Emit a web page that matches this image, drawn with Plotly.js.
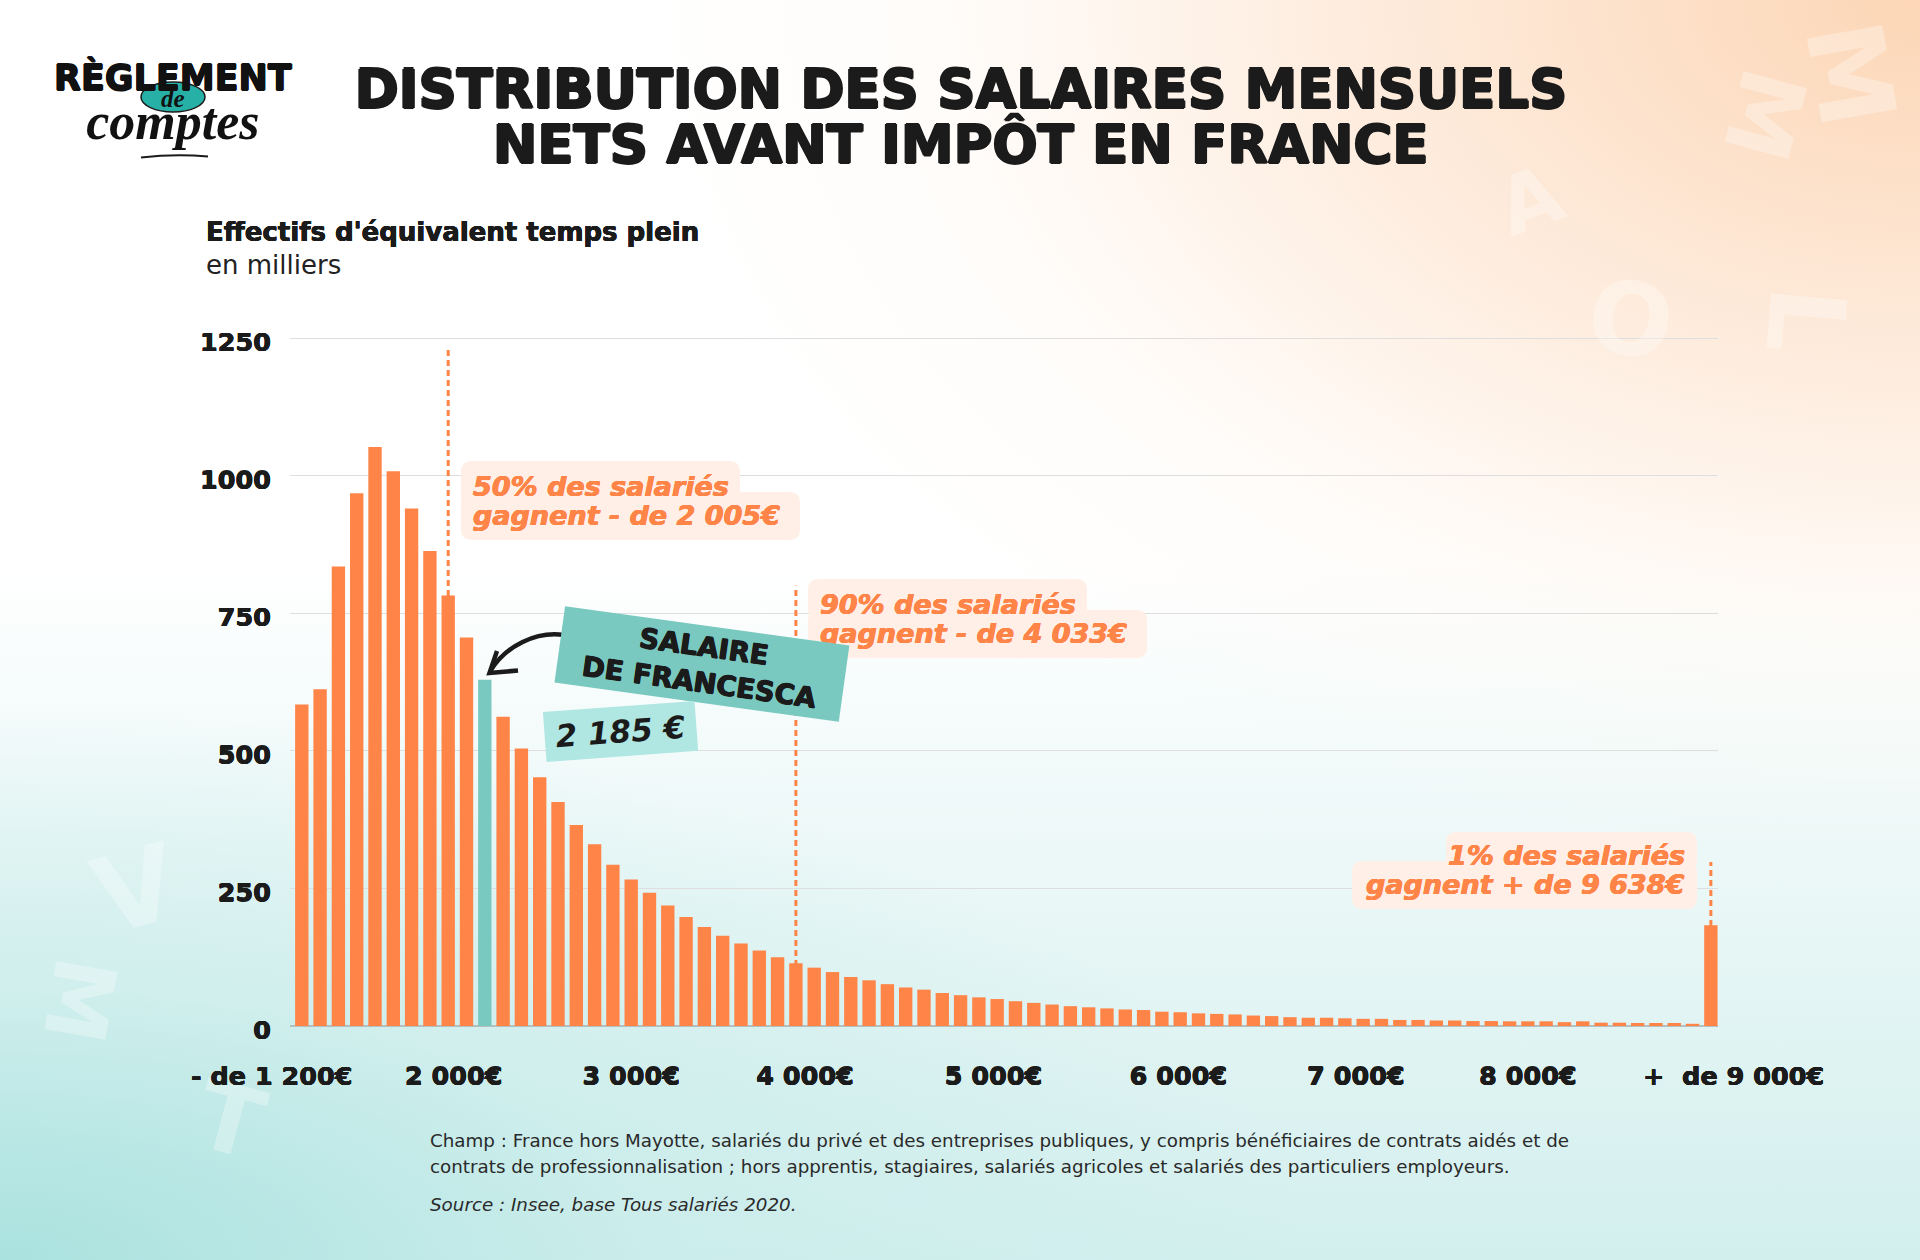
<!DOCTYPE html>
<html>
<head>
<meta charset="utf-8">
<script src="https://cdn.plot.ly/plotly-3.0.1.min.js"></script>
<style>
  html, body { margin: 0; padding: 0; }
  body {
    width: 1920px; height: 1260px; overflow: hidden;
    background:
      radial-gradient(ellipse 85% 85% at 100% 0%, rgba(252,212,178,0.95) 0%, rgba(253,226,204,0.65) 35%, rgba(255,246,238,0.3) 60%, rgba(255,255,255,0) 80%),
      radial-gradient(ellipse 85% 55% at 0% 100%, rgba(170,226,223,1) 0%, rgba(200,236,234,0.7) 40%, rgba(255,255,255,0) 80%),
      linear-gradient(to bottom, #ffffff 0%, #ffffff 45%, #e6f6f5 75%, #d2efee 100%);
  }
  #chart { width: 1920px; height: 1260px; }
</style>
</head>
<body>
<div id="chart"></div>
<script>
// ---------------- DATA ----------------
// Effectifs (milliers d'EQTP) par tranche de salaire mensuel net
const binValues = [584,612,835,968,1052,1008,940,863,782,706,
                   629,562,504,452,407,365,330,293,266,242,
                   219,198,180,164,150,137,125,114,106,98,
                   89,83,76,70,66,60,56,52,49,45,
                   42,39,36,34,32,30,29,26,25,23,
                   22,21,19,18,16,15,15,14,13,13,
                   11,11,10,10,9,9,8.5,8.5,8.5,7,
                   8.5,6,6,5.5,5.5,5.5,4,183];
const highlightBin = 10;               // salaire de Francesca (2 185 €)
const xTickPositions = [8.3, 18, 27.5, 37.8, 47.9, 57.6, 67];
const xTickLabels = ['2 000€','3 000€','4 000€','5 000€','6 000€','7 000€','8 000€'];
const xEndLabels = ['- de 1 200€', '+\u00a0 de 9 000€'];
const yTickValues = [0, 250, 500, 750, 1000, 1250];
const yTickLabels = ['0', '250', '500', '750', '1000', '1250'];
// seuils : médiane (2 005 €), 9e décile (4 033 €), dernier centile (9 638 €)
const thresholdBins = [8, 27, 77];
const thresholdTops = [1235, 800, 298];
const thresholdText = [
  ['50% des salariés', 'gagnent - de 2 005€'],
  ['90% des salariés', 'gagnent - de 4 033€'],
  ['1% des salariés', 'gagnent + de 9 638€']
];

// ---------------- STYLE / LAYOUT HELPERS ----------------
const ORANGE = '#FF8447', TEAL = '#79C9C1', LIGHTTEAL = '#B0E7E3', BOX = '#FFEFE7', INK = '#1b1b1b';
const W = 1920, H = 1260, L = 290, R = 1718, T = 326, B = 1026;
const PX_PER_UNIT = 688 / 1250;
const YMAX = (B - T) / PX_PER_UNIT;    // headroom so the 1250 gridline is drawn
const px = v => (v - L) / (R - L);
const py = v => (B - v) / (B - T);
const pt = (x, y) => px(x).toFixed(5) + ',' + py(y).toFixed(5);
const heavyCss = (c, w) => w + 'px 0 0 ' + c + ', -' + w + 'px 0 0 ' + c + ', 0 ' + w + 'px 0 ' + c + ', 0 -' + w + 'px 0 ' + c;

function rrect(x0, y0, x1, y1, r) {
  return 'M' + pt(x0 + r, y0) + ' L' + pt(x1 - r, y0) + ' Q' + pt(x1, y0) + ' ' + pt(x1, y0 + r) +
         ' L' + pt(x1, y1 - r) + ' Q' + pt(x1, y1) + ' ' + pt(x1 - r, y1) +
         ' L' + pt(x0 + r, y1) + ' Q' + pt(x0, y1) + ' ' + pt(x0, y1 - r) +
         ' L' + pt(x0, y0 + r) + ' Q' + pt(x0, y0) + ' ' + pt(x0 + r, y0) + ' Z';
}
function boxShape(x0, y0, x1, y1) {
  return { type: 'path', xref: 'paper', yref: 'paper', path: rrect(x0, y0, x1, y1, 11),
           fillcolor: BOX, line: { width: 0 }, layer: 'above' };
}

const barColors = binValues.map((v, i) => i === highlightBin ? TEAL : ORANGE);

const trace = {
  type: 'bar',
  x: binValues.map((v, i) => i),
  y: binValues,
  marker: { color: barColors, line: { width: 0 } },
  hoverinfo: 'skip'
};

const orangeFont = { family: 'DejaVu Sans', size: 27, weight: 'bold', style: 'italic', color: ORANGE,
                     shadow: heavyCss(ORANGE, 0.4) };
const tickFont = { family: 'DejaVu Sans', size: 25.5, weight: 'bold', color: INK, shadow: heavyCss(INK, 0.35) };
const titleFont = { family: 'DejaVu Sans', size: 53, weight: 'bold', color: INK, shadow: heavyCss(INK, 1.2) };

const shapes = [
  // threshold dashed lines
  ...thresholdBins.map((b, i) => ({
    type: 'line', xref: 'x', yref: 'y', x0: b, x1: b, y0: 0, y1: thresholdTops[i],
    line: { color: ORANGE, width: 3, dash: '6px,4px' }, layer: 'between'
  })),
  // annotation highlight boxes
  boxShape(461, 461, 740, 505), boxShape(461, 492, 800, 540),
  boxShape(808, 579, 1087, 620), boxShape(808, 610, 1147, 658),
  boxShape(1446, 832, 1697, 870), boxShape(1352, 861, 1697, 909),
  // curved arrow to Francesca's bar
  { type: 'path', xref: 'paper', yref: 'paper',
    path: 'M' + pt(564, 635) + ' C' + pt(536, 631) + ' ' + pt(506, 646) + ' ' + pt(491, 670),
    line: { color: INK, width: 4.5 }, layer: 'above' },
  { type: 'path', xref: 'paper', yref: 'paper',
    path: 'M' + pt(497, 651) + ' L' + pt(489.5, 673) + ' L' + pt(518, 670.5),
    line: { color: INK, width: 4.5 }, layer: 'above' },
  // logo ellipse
  { type: 'circle', xref: 'paper', yref: 'paper', x0: px(141), x1: px(205), y0: py(82), y1: py(112),
    fillcolor: '#27B0A6', line: { color: INK, width: 1.5 }, layer: 'above' },
  // logo swoosh
  { type: 'path', xref: 'paper', yref: 'paper',
    path: 'M' + pt(141, 157.5) + ' Q' + pt(175, 153.5) + ' ' + pt(208, 156.5),
    line: { color: INK, width: 2 }, layer: 'above' }
];

function ann(text, x, y, opts) {
  return Object.assign({ text: text, x: px(x), y: py(y), xref: 'paper', yref: 'paper',
                         showarrow: false, xanchor: 'left', yanchor: 'middle' }, opts || {});
}
const WM = 'rgba(255,255,255,0.3)';
function wm(letter, x, y, size, angle) {
  return ann(letter, x, y, { xanchor: 'center', textangle: angle,
    font: { family: 'DejaVu Sans', size: size, weight: 'bold', color: WM } });
}

const logoText =
  '<span style="font-family:\'DejaVu Sans\';font-style:normal;font-size:35px;text-shadow:' + heavyCss('#111', 0.7) + '">RÈGLEMENT</span>' +
  '<br><span style="font-size:25px;baseline-shift:8px">de</span>' +
  '<br><span style="font-size:52px">comptes</span>';

const annotations = [
  // faint decorative letters of the background
  wm('M', 1850, 75, 105, 80), wm('M', 1765, 115, 90, 105), wm('L', 1805, 320, 105, 95),
  wm('O', 1630, 320, 100, 10), wm('A', 1530, 200, 80, -20),
  wm('V', 135, 890, 105, -15), wm('M', 80, 1000, 85, 100), wm('T', 230, 1120, 95, 15),
  // second title line
  ann('NETS AVANT IMPÔT EN FRANCE', 961, 144.5, { xanchor: 'center', font: titleFont }),
  // y-axis heading
  ann("Effectifs d'équivalent temps plein", 204, 232.5,
      { font: { family: 'DejaVu Sans', size: 26, weight: 'bold', color: INK, shadow: heavyCss(INK, 0.35) } }),
  ann('en milliers', 204, 265, { font: { family: 'DejaVu Sans', size: 26, color: '#222' } }),
  // threshold labels
  ann(thresholdText[0][0], 471, 486, { font: orangeFont }),
  ann(thresholdText[0][1], 471, 515, { font: orangeFont }),
  ann(thresholdText[1][0], 818, 604, { font: orangeFont }),
  ann(thresholdText[1][1], 818, 633, { font: orangeFont }),
  ann(thresholdText[2][0], 1687, 855, { xanchor: 'right', font: orangeFont }),
  ann(thresholdText[2][1], 1687, 884, { xanchor: 'right', font: orangeFont }),
  // Francesca labels
  ann('SALAIRE<br>DE FRANCESCA', 702, 663.5, { xanchor: 'center', textangle: 7.9,
      bgcolor: TEAL, width: 286, height: 76, borderpad: 0, align: 'center', valign: 'middle',
      font: { family: 'DejaVu Sans', size: 27.5, weight: 'bold', color: INK, shadow: heavyCss(INK, 0.6) } }),
  ann('2 185 €', 620, 731, { xanchor: 'center', textangle: -4.2,
      bgcolor: LIGHTTEAL, width: 151, height: 49, borderpad: 0, align: 'center', valign: 'middle',
      font: { family: 'DejaVu Sans', size: 31, weight: 'bold', style: 'italic', color: INK } }),
  // end x labels
  { text: xEndLabels[0], x: 0, y: 0, xref: 'x', yref: 'paper', xshift: -30, yshift: -50,
    showarrow: false, xanchor: 'center', yanchor: 'middle', font: tickFont },
  { text: xEndLabels[1], x: binValues.length - 1, y: 0, xref: 'x', yref: 'paper', xshift: 23, yshift: -50,
    showarrow: false, xanchor: 'center', yanchor: 'middle', font: tickFont },
  // logo (one text block: RÈGLEMENT / de / comptes)
  ann(logoText, 173, 104, { xanchor: 'center', align: 'center',
      font: { family: 'Liberation Serif', size: 19, weight: 'bold', style: 'italic', color: '#111' } }),
  // footnotes
  ann('Champ : France hors Mayotte, salariés du privé et des entreprises publiques, y compris bénéficiaires de contrats aidés et de',
      428, 1140, { font: { family: 'DejaVu Sans', size: 18.3, color: '#2a2a2a' } }),
  ann('contrats de professionnalisation ; hors apprentis, stagiaires, salariés agricoles et salariés des particuliers employeurs.',
      428, 1166, { font: { family: 'DejaVu Sans', size: 18.3, color: '#2a2a2a' } }),
  ann('Source : Insee, base Tous salariés 2020.', 428, 1204,
      { font: { family: 'DejaVu Sans', size: 18.3, style: 'italic', color: '#2a2a2a' } })
];

const layout = {
  width: W, height: H,
  margin: { l: L, r: W - R, t: T, b: H - B, pad: 0 },
  paper_bgcolor: 'rgba(0,0,0,0)', plot_bgcolor: 'rgba(0,0,0,0)',
  showlegend: false, bargap: 0.27, hovermode: false,
  title: { text: 'DISTRIBUTION DES SALAIRES MENSUELS', x: 961 / W, xanchor: 'center',
           y: 1 - 89 / H, yanchor: 'middle', yref: 'container', font: titleFont },
  xaxis: {
    range: [-0.645, 77.39], showgrid: false, zeroline: false, showline: false,
    tickmode: 'array', tickvals: xTickPositions, ticktext: xTickLabels,
    ticks: 'outside', ticklen: 27, tickcolor: 'rgba(0,0,0,0)', tickfont: tickFont, automargin: false
  },
  yaxis: {
    range: [0, YMAX], tickmode: 'array', tickvals: yTickValues, ticktext: yTickLabels,
    showgrid: true, gridcolor: '#dedede', gridwidth: 1,
    zeroline: true, zerolinecolor: '#b4c0c0', zerolinewidth: 1.5, showline: false,
    ticks: 'outside', ticklen: 13, tickcolor: 'rgba(0,0,0,0)', tickfont: tickFont,
    ticklabelshift: 4, automargin: false
  },
  shapes: shapes,
  annotations: annotations
};

Plotly.newPlot('chart', [trace], layout, { staticPlot: true, displayModeBar: false });
</script>
</body>
</html>
